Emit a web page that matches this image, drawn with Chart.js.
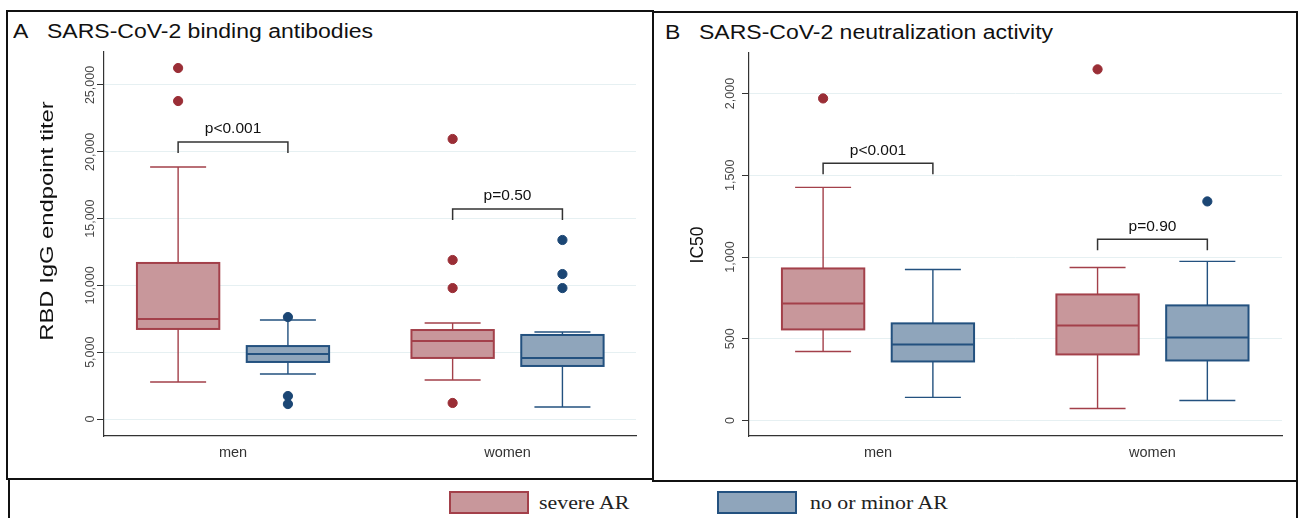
<!DOCTYPE html>
<html><head><meta charset="utf-8">
<script src="https://cdn.jsdelivr.net/npm/chart.js@4.4.1/dist/chart.umd.min.js"></script>
<style>
html,body{margin:0;padding:0;background:#fff;}
body{width:1298px;height:518px;overflow:hidden;position:relative;font-family:"Liberation Sans",Arial,sans-serif;}
.panel{position:absolute;border:2px solid #111;box-sizing:border-box;}
#pa{left:6px;top:10px;width:648px;height:470px;}
#pb{left:652px;top:11px;width:646px;height:471px;}
.ttl{position:absolute;font-size:20px;color:#111;white-space:nowrap;line-height:1;transform:scaleX(1.15);transform-origin:0 0;}
canvas{position:absolute;}
#legend{position:absolute;left:8px;top:480px;width:1290px;height:40px;border-left:2px solid #111;border-right:2px solid #111;box-sizing:border-box;}
.sw{position:absolute;top:11px;width:80px;height:23px;box-sizing:border-box;border:2px solid;}
.lt{position:absolute;top:13px;font-family:"Liberation Serif","Times New Roman",serif;font-size:19px;color:#222;line-height:1;white-space:nowrap;transform:scaleX(1.15);transform-origin:0 0;}
</style>
</head><body>
<div class="panel" id="pa"></div>
<div class="panel" id="pb"></div>
<div class="ttl" style="left:13px;top:21px;">A</div>
<div class="ttl" style="left:47px;top:21px;">SARS-CoV-2 binding antibodies</div>
<div class="ttl" style="left:665px;top:22px;">B</div>
<div class="ttl" style="left:699px;top:22px;">SARS-CoV-2 neutralization activity</div>
<canvas id="ca" width="643" height="430" style="left:8px;top:40px;"></canvas>
<canvas id="cb" width="640" height="430" style="left:655px;top:40px;"></canvas>
<div id="legend"></div>
<script>
// ---- data ----
const groups = ['men', 'women'];
const seriesNames = ['severe AR', 'no or minor AR'];
// box stats per group: [lower whisker, q1, median, q3, upper whisker]
const aSevere = [[2770, 6740, 7480, 11680, 18860], [2920, 4570, 5840, 6660, 7190]];
const aMinor  = [[3370, 4270, 4870, 5460, 7410], [900, 3970, 4570, 6290, 6510]];
const aSevereOut = [[26270, 23800], [20960, 11900, 9800, 1200]];
const aMinorOut  = [[7630, 1720, 1120], [13400, 10850, 9800]];
const bSevere = [[422, 557, 716, 930, 1426], [73, 404, 581, 771, 936]];
const bMinor  = [[141, 361, 465, 594, 924], [122, 367, 508, 704, 973]];
const bSevereOut = [[1970], [2148]];
const bMinorOut  = [[], [1340]];
const aTicks = [0, 5000, 10000, 15000, 20000, 25000];
const bTicks = [0, 500, 1000, 1500, 2000];
const aPvals = ['p<0.001', 'p=0.50'];
const bPvals = ['p<0.001', 'p=0.90'];
const aBracket = [20730, 15720];
const bBracket = [1573, 1108];

// ---- styles ----
const COLORS = [
  {fill: '#c8979b', line: '#a3404a', dot: '#9a2e36'},
  {fill: '#8fa5bb', line: '#23517f', dot: '#1b4674'}
];
const OFFS = [-0.2, 0.2];
const BOX_HALF = 0.15, CAP_HALF = 0.102;

// legend
const lg = document.getElementById('legend');
const swLeft = [439, 707], txLeft = [529, 800];
seriesNames.forEach((n, i) => {
  const s = document.createElement('div');
  s.className = 'sw'; s.style.left = swLeft[i] + 'px';
  s.style.background = COLORS[i].fill; s.style.borderColor = COLORS[i].line;
  lg.appendChild(s);
  const t = document.createElement('div');
  t.className = 'lt'; t.style.left = txLeft[i] + 'px'; t.textContent = n;
  lg.appendChild(t);
});

function makeChart(id, opt) {
  const stats = [opt.severe, opt.minor];
  const outs = [opt.severeOut, opt.minorOut];
  const datasets = outs.map((o, si) => ({
    type: 'scatter',
    label: seriesNames[si],
    data: o.flatMap((arr, gi) => arr.map(v => ({x: gi + 1 + OFFS[si], y: v}))),
    backgroundColor: COLORS[si].dot,
    borderColor: COLORS[si].dot,
    pointRadius: 4.6,
    pointHoverRadius: 4.6
  }));
  const plugin = {
    id: 'boxes_' + id,
    beforeDatasetsDraw(chart) {
      const {ctx} = chart; const x = chart.scales.x, y = chart.scales.y;
      ctx.save();
      stats.forEach((st, si) => {
        st.forEach((s, gi) => {
          const c = gi + 1 + OFFS[si];
          const xl = x.getPixelForValue(c - BOX_HALF), xr = x.getPixelForValue(c + BOX_HALF);
          const cl = x.getPixelForValue(c - CAP_HALF), cr = x.getPixelForValue(c + CAP_HALF);
          const xc = x.getPixelForValue(c);
          const [lo, q1, md, q3, hi] = s.map(v => y.getPixelForValue(v));
          ctx.strokeStyle = COLORS[si].line;
          ctx.lineWidth = 1.4;
          ctx.beginPath();
          ctx.moveTo(xc, q3); ctx.lineTo(xc, hi);
          ctx.moveTo(cl, hi); ctx.lineTo(cr, hi);
          ctx.moveTo(xc, q1); ctx.lineTo(xc, lo);
          ctx.moveTo(cl, lo); ctx.lineTo(cr, lo);
          ctx.stroke();
          ctx.fillStyle = COLORS[si].fill;
          ctx.fillRect(xl, q3, xr - xl, q1 - q3);
          ctx.lineWidth = 2;
          ctx.strokeRect(xl, q3, xr - xl, q1 - q3);
          ctx.beginPath(); ctx.moveTo(xl, md); ctx.lineTo(xr, md); ctx.stroke();
        });
      });
      ctx.restore();
    },
    afterDraw(chart) {
      const {ctx} = chart; const x = chart.scales.x, y = chart.scales.y;
      ctx.save();
      // y tick labels (rotated)
      ctx.fillStyle = '#444';
      ctx.font = '12.5px "Liberation Sans", Arial, sans-serif';
      ctx.textAlign = 'center'; ctx.textBaseline = 'middle';
      opt.ticks.forEach(v => {
        const py = y.getPixelForValue(v);
        ctx.save(); ctx.translate(opt.tickLabelX, py); ctx.rotate(-Math.PI / 2);
        ctx.fillText(v.toLocaleString('en-US'), 0, 0); ctx.restore();
      });
      // y title
      ctx.fillStyle = '#111';
      ctx.font = '17.5px "Liberation Sans", Arial, sans-serif';
      ctx.save(); ctx.translate(opt.titleX, opt.titleY); ctx.rotate(-Math.PI / 2);
      ctx.scale(opt.titleStretch, 1);
      ctx.fillText(opt.yTitle, 0, 0); ctx.restore();
      // brackets
      ctx.strokeStyle = '#333'; ctx.lineWidth = 1.5;
      ctx.font = '15.5px "Liberation Sans", Arial, sans-serif';
      ctx.fillStyle = '#111';
      opt.bracket.forEach((bv, gi) => {
        const x1 = x.getPixelForValue(gi + 1 + OFFS[0]), x2 = x.getPixelForValue(gi + 1 + OFFS[1]);
        const by = y.getPixelForValue(bv);
        ctx.beginPath();
        ctx.moveTo(x1, by + 11); ctx.lineTo(x1, by); ctx.lineTo(x2, by); ctx.lineTo(x2, by + 11);
        ctx.stroke();
        ctx.fillText(opt.pvals[gi], (x1 + x2) / 2, by - 13);
      });
      ctx.restore();
    }
  };
  return new Chart(document.getElementById(id), {
    type: 'scatter',
    data: {datasets},
    plugins: [plugin],
    options: {
      responsive: false, animation: false,
      layout: {padding: opt.padding},
      plugins: {legend: {display: false}, tooltip: {enabled: false}, title: {display: false}},
      scales: {
        x: {
          type: 'linear', min: opt.xMin, max: opt.xMax,
          afterBuildTicks: s => { s.ticks = groups.map((g, i) => ({value: i + 1})); },
          afterFit: s => { s.height = 34; },
          grid: {display: false, drawTicks: false},
          border: {display: true, color: '#333', width: 1.2},
          ticks: {callback: (v, i) => groups[i], color: '#333', padding: 8,
                  font: {family: '"Liberation Sans", Arial, sans-serif', size: 14.5}}
        },
        y: {
          type: 'linear', min: opt.yMin, max: opt.yMax,
          afterBuildTicks: s => { s.ticks = opt.ticks.map(v => ({value: v})); },
          afterFit: s => { s.width = opt.yWidth; },
          grid: {display: true, color: '#e6f0f2', lineWidth: 1, drawTicks: true, tickLength: 7, tickColor: '#333', tickWidth: 1},
          border: {display: true, color: '#333', width: 1.2},
          ticks: {display: false}
        }
      }
    }
  });
}

makeChart('ca', {
  severe: aSevere, minor: aMinor, severeOut: aSevereOut, minorOut: aMinorOut,
  ticks: aTicks, pvals: aPvals, bracket: aBracket,
  yMin: -1272, yMax: 27470, xMin: 0.53, xMax: 2.468,
  padding: {top: 12, right: 15, left: 0, bottom: 0}, yWidth: 96,
  tickLabelX: 83, titleX: 40, titleY: 181, titleStretch: 1.36, yTitle: 'RBD IgG endpoint titer'
});
makeChart('cb', {
  severe: bSevere, minor: bMinor, severeOut: bSevereOut, minorOut: bMinorOut,
  ticks: bTicks, pvals: bPvals, bracket: bBracket,
  yMin: -95, yMax: 2248, xMin: 0.53, xMax: 2.472,
  padding: {top: 13, right: 13, left: 0, bottom: 0}, yWidth: 94,
  tickLabelX: 76, titleX: 43, titleY: 205, titleStretch: 1, yTitle: 'IC50'
});
</script>
</body></html>
